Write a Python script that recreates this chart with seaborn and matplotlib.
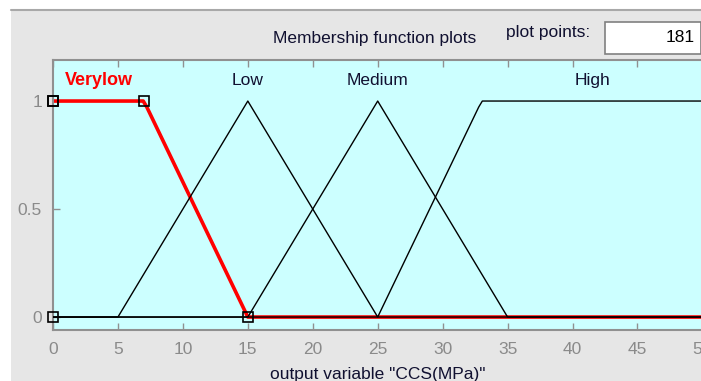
import numpy as np
import pandas as pd
import matplotlib
matplotlib.use("Agg")
import matplotlib.pyplot as plt
from matplotlib.patches import Rectangle
import seaborn as sns

# Output variable universe and membership functions (trapezoid params a, b, c, d)
x_range = [0, 50]
n_points = 181
mf_names = ["Verylow", "Low", "Medium", "High"]
mf_params = [
    [0, 0, 7, 15],
    [5, 15, 15, 25],
    [15, 25, 25, 35],
    [25, 33, 50, 50],
]
selected = "Verylow"
x_ticks = [0, 5, 10, 15, 20, 25, 30, 35, 40, 45, 50]
y_ticks = [0, 0.5, 1]
y_tick_labels = ["0", "0.5", "1"]


def trapmf(x, p):
    a, b, c, d = p
    y = np.ones_like(x)
    if b > a:
        y = np.where(x < b, (x - a) / (b - a), y)
    if d > c:
        y = np.where(x > c, (d - x) / (d - c), y)
    y = np.where((x < a) | (x > d), 0.0, y)
    return np.clip(y, 0, 1)


xs = np.linspace(x_range[0], x_range[1], n_points)
frames = []
for name, p in zip(mf_names, mf_params):
    frames.append(pd.DataFrame({"x": xs, "mu": trapmf(xs, p), "mf": name}))
df = pd.concat(frames, ignore_index=True)

sns.set_style("white")
plt.rcParams["font.family"] = ["Liberation Sans", "DejaVu Sans"]

panel = "#E6E6E6"
ink = "#101030"
fs = 12.5
fig = plt.figure(figsize=(7.01, 3.81), dpi=100, facecolor=panel)

# window frame: white margins on the left and top with a grey rule
fig.add_artist(Rectangle((0, 0), 11 / 701, 1, transform=fig.transFigure,
                         facecolor="white", edgecolor="none", zorder=0))
fig.add_artist(Rectangle((0, 1 - 9 / 381), 1, 9 / 381, transform=fig.transFigure,
                         facecolor="white", edgecolor="none", zorder=0))
fig.add_artist(plt.Line2D([11 / 701, 1], [1 - 10 / 381, 1 - 10 / 381],
                          transform=fig.transFigure, color="#A8A8A8", lw=1.5))

ax = fig.add_axes([53 / 701, 1 - 330 / 381, 1 - 53 / 701 + 0.002, 270 / 381])
ax.set_facecolor("#CCFFFF")

# unselected membership functions in black, selected one in red
others = df[df["mf"] != selected]
sns.lineplot(data=others, x="x", y="mu", units="mf", estimator=None,
             color="black", lw=1.0, ax=ax, zorder=3, legend=False)
sel = df[df["mf"] == selected]
sns.lineplot(data=sel, x="x", y="mu", estimator=None,
             color="#FF0000", lw=2.6, ax=ax, zorder=2, legend=False)

# square handles at the breakpoints of the selected function
sp = mf_params[mf_names.index(selected)]
hx = list(sp) + [sp[0]]
hy = [float(trapmf(np.array([float(v)]), sp)[0]) for v in sp] + [0.0]
ax.plot(hx, hy, linestyle="none", marker="s", ms=7, mfc="none", mec="black",
        mew=1.2, zorder=5, clip_on=False)

# labels above each function
for name, p in zip(mf_names, mf_params):
    if p[1] == p[0] and p[0] == x_range[0]:
        cx = (p[0] + p[2]) / 2
    elif p[3] == p[2] and p[3] == x_range[1]:
        cx = (p[1] + p[3]) / 2
    else:
        cx = (p[1] + p[2]) / 2
    if name == selected:
        ax.text(cx, 1.095, name, color="#FF0000", fontsize=13, fontweight="bold",
                ha="center", va="center")
    else:
        ax.text(cx, 1.095, name, color=ink, fontsize=fs,
                ha="center", va="center")

ax.set_xlim(x_range)
ax.set_ylim(-0.06, 1.19)
ax.set_xticks(x_ticks)
ax.set_xticklabels([str(t) for t in x_ticks])
ax.set_yticks(y_ticks)
ax.set_yticklabels(y_tick_labels)
ax.tick_params(axis="both", direction="in", length=5, width=1, color="#909090",
               labelcolor="#8A8A8A", labelsize=fs, top=True, left=True,
               bottom=True, right=False)
ax.tick_params(axis="x", pad=9)
ax.tick_params(axis="y", pad=8)
for s in ax.spines.values():
    s.set_color("#909090")
    s.set_linewidth(1.5)
ax.set_xlabel('output variable "CCS(MPa)"', fontsize=fs, color=ink, labelpad=7)
ax.set_ylabel("")

# header text and the plot-points box
fig.text(375 / 701, 1 - 38 / 381, "Membership function plots", fontsize=fs,
         color=ink, ha="center", va="center")
fig.text(548 / 701, 1 - 32 / 381, "plot points:", fontsize=fs,
         color=ink, ha="center", va="center")
fig.add_artist(Rectangle((605 / 701, 1 - 54 / 381), 96 / 701, 32 / 381,
                         transform=fig.transFigure, facecolor="white",
                         edgecolor="#808080", lw=1.2))
fig.text(695 / 701, 1 - 38 / 381, str(n_points), fontsize=fs, color="black",
         ha="right", va="center")

fig.savefig("out.png", dpi=100, facecolor=panel)
